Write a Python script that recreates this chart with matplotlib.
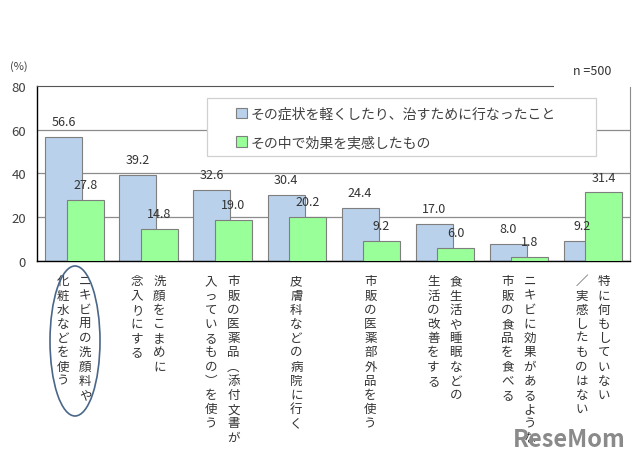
import numpy as np
import matplotlib.pyplot as plt
from matplotlib.patches import Ellipse, Rectangle

plt.rcParams['font.family'] = ['Noto Sans CJK JP', 'DejaVu Sans']

# 各項目の縦書きラベル (右の列から順に)
labels = [
    ["ニキビ用の洗顔料や", "化粧水などを使う"],
    ["洗顔をこまめに", "念入りにする"],
    ["市販の医薬品\ufe35添付文書が", "入っているもの\ufe36を使う"],
    ["皮膚科などの病院に行く"],
    ["市販の医薬部外品を使う"],
    ["食生活や睡眠などの", "生活の改善をする"],
    ["ニキビに効果があるような", "市販の食品を食べる"],
    ["特に何もしていない", "／実感したものはない"],
]
done = [56.6, 39.2, 32.6, 30.4, 24.4, 17.0, 8.0, 9.2]
felt = [27.8, 14.8, 19.0, 20.2, 9.2, 6.0, 1.8, 31.4]
series = ["その症状を軽くしたり、治すために行なったこと", "その中で効果を実感したもの"]

fig = plt.figure(figsize=(6.4, 4.64), dpi=100)
ax = fig.add_axes([0.058, 0.435, 0.926, 0.378])

x = np.arange(len(done))
w = 0.5
ax.bar(x - 0.14, done, w, color='#b9d1ea', edgecolor='#7f7f7f', linewidth=0.8,
       label=series[0], zorder=2)
ax.bar(x + 0.15, felt, w, color='#99ff99', edgecolor='#7f7f7f', linewidth=0.8,
       label=series[1], zorder=3)

for i in range(len(done)):
    ax.text(x[i] - 0.14, done[i] + 4, f"{done[i]:.1f}", ha='center', va='bottom',
            fontsize=9, color='#333333', zorder=4)
    ax.text(x[i] + 0.15, felt[i] + 4, f"{felt[i]:.1f}", ha='center', va='bottom',
            fontsize=9, color='#333333', zorder=4)

ax.set_xlim(-0.5, 7.5)
ax.set_ylim(0, 80)
ax.set_yticks([0, 20, 40, 60, 80])
ax.set_xticks([])
ax.tick_params(axis='y', length=0, labelsize=9.5, colors='#404040', pad=8)
ax.yaxis.grid(True, color='#8c8c8c', linewidth=0.9, zorder=0)
ax.get_ygridlines()[-1].set_visible(False)
for s in ['left', 'bottom']:
    ax.spines[s].set_color('#000000')
    ax.spines[s].set_linewidth(1.0)
ax.spines['top'].set_color('#555555')
ax.spines['top'].set_bounds(-0.5, 6.46)
ax.spines['right'].set_color('#8c8c8c')
ax.spines['right'].set_bounds(0, 79.3)

# 凡例 (枠は別に描く)
frame = Rectangle((0.2867, 0.60), 0.656, 0.331, transform=ax.transAxes,
                  facecolor='white', edgecolor='#d0d0d0', linewidth=0.9, zorder=5)
ax.add_patch(frame)
leg = ax.legend(loc='upper left', bbox_to_anchor=(0.335, 0.88), fontsize=10,
                frameon=False, handlelength=0.8, handleheight=0.8,
                handletextpad=0.3, labelspacing=1.05, borderpad=0,
                borderaxespad=0)
for t in leg.get_texts():
    t.set_color('#404040')
leg.set_zorder(6)

fig.text(0.955, 0.845, "n =500", ha='right', va='center', fontsize=9,
         color='#333333')
fig.text(0.015, 0.856, "(%)", fontsize=8, color='#404040', va='center')

# 縦書きラベル
for i, cols in enumerate(labels):
    n = len(cols)
    for j, col in enumerate(cols):
        off = 0.0 if n == 1 else (0.15 if j == 0 else -0.15)
        ax.text(x[i] + off, -6, "\n".join(col), ha='center', va='top',
                fontsize=9, color='#333333', linespacing=1.12)

# 1項目目を囲む楕円
ell = Ellipse((75 / 640, 1 - 342 / 464), 50 / 640, 150 / 464,
              transform=fig.transFigure, fill=False, edgecolor='#4a6688',
              linewidth=1.2)
fig.patches.append(ell)

fig.text(0.978, 0.025, "ReseMom", ha='right', va='bottom', fontsize=17,
         fontweight='bold', color='#8a8a8a')

fig.savefig("out.png", dpi=100)
